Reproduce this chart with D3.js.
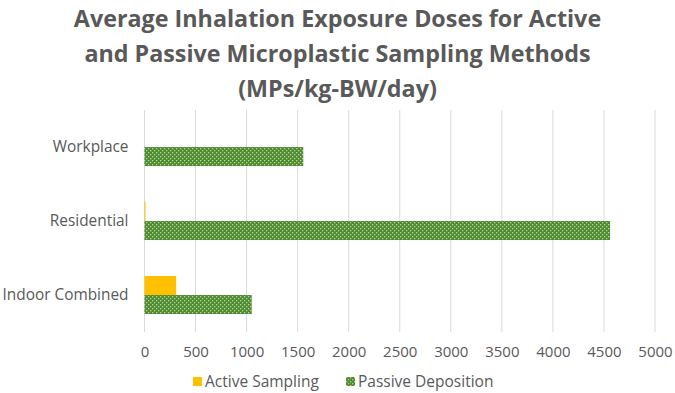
<!DOCTYPE html>
<html>
<head>
<meta charset="utf-8">
<script src="https://cdn.jsdelivr.net/npm/d3@7"></script>
<style>
  body { margin: 0; background: #fff; }
  text { font-family: "Open Sans", "Noto Sans", sans-serif; fill: #595959; }
</style>
</head>
<body>
<div id="chart-area"></div>
<script>
// data
let categories = ["Workplace", "Residential", "Indoor Combined"];
let seriesNames = ["Active Sampling", "Passive Deposition"];
let activeValues = [0, 10, 310];
let passiveValues = [1555, 4560, 1050];
let tickValues = [0, 500, 1000, 1500, 2000, 2500, 3000, 3500, 4000, 4500, 5000];
let titleLines = ["Average Inhalation Exposure Doses for Active",
                  "and Passive Microplastic Sampling Methods",
                  "(MPs/kg-BW/day)"];

let W = 675, H = 393;
let plot = {left: 144.5, right: 655, top: 110, bottom: 332};

let svg = d3.select("#chart-area").append("svg")
    .attr("width", W)
    .attr("height", H);

// pattern for passive bars
let defs = svg.append("defs");
let pat = defs.append("pattern")
    .attr("id", "dots")
    .attr("patternUnits", "userSpaceOnUse")
    .attr("width", 4).attr("height", 4);
pat.append("rect").attr("width", 4).attr("height", 4).attr("fill", "#4e8a2f");
pat.append("rect").attr("x", 0).attr("y", 0).attr("width", 1.3).attr("height", 1.3).attr("fill", "#b5d69c");
pat.append("rect").attr("x", 2).attr("y", 2).attr("width", 1.3).attr("height", 1.3).attr("fill", "#b5d69c");

// title
svg.append("g").selectAll("text")
    .data(titleLines)
  .enter().append("text")
    .attr("x", W / 2)
    .attr("y", (d, i) => 27 + i * 35)
    .attr("text-anchor", "middle")
    .style("font-size", "23.3px")
    .style("font-weight", "bold")
    .text(d => d);

// scales
let x = d3.scaleLinear()
    .domain([0, 5000])
    .range([plot.left, plot.right]);

let y = d3.scaleBand()
    .domain(categories)
    .range([plot.top, plot.bottom])
    .paddingInner(0.486)
    .paddingOuter(0.243);

let ySub = d3.scaleBand()
    .domain(seriesNames)
    .range([0, y.bandwidth()]);

// gridlines
svg.append("g").selectAll("line")
    .data(tickValues)
  .enter().append("line")
    .attr("x1", d => x(d)).attr("x2", d => x(d))
    .attr("y1", plot.top).attr("y2", plot.bottom)
    .attr("stroke", "#d9d9d9")
    .attr("stroke-width", 1);

// x axis labels
let xAxis = d3.axisBottom(x).tickValues(tickValues).tickFormat(d3.format("d")).tickSize(0).tickPadding(14);
let xg = svg.append("g")
    .attr("transform", "translate(0," + plot.bottom + ")")
    .call(xAxis);
xg.select(".domain").remove();
xg.selectAll("text")
    .style("font-size", "15px")
    .style("font-family", "'Open Sans', sans-serif")
    .attr("fill", "#595959");

// y axis labels
let yAxis = d3.axisLeft(y).tickSize(0).tickPadding(16);
let yg = svg.append("g")
    .attr("transform", "translate(" + plot.left + ",0)")
    .call(yAxis);
yg.select(".domain").remove();
yg.selectAll("text")
    .style("font-size", "15.4px")
    .style("font-family", "'Open Sans', sans-serif")
    .attr("fill", "#595959");

// bars
let rows = categories.map((c, i) => ({cat: c, active: activeValues[i], passive: passiveValues[i]}));

svg.append("g").selectAll("rect")
    .data(rows)
  .enter().append("rect")
    .attr("x", x(0))
    .attr("y", d => y(d.cat) + ySub("Active Sampling"))
    .attr("width", d => x(d.active) - x(0))
    .attr("height", ySub.bandwidth())
    .attr("fill", "#ffc000");

svg.append("g").selectAll("rect")
    .data(rows)
  .enter().append("rect")
    .attr("x", x(0))
    .attr("y", d => y(d.cat) + ySub("Passive Deposition"))
    .attr("width", d => x(d.passive) - x(0))
    .attr("height", ySub.bandwidth())
    .attr("fill", "url(#dots)");

// legend
let legendX = [193, 346];
let leg = svg.append("g").selectAll("g")
    .data(seriesNames)
  .enter().append("g")
    .attr("transform", (d, i) => "translate(" + legendX[i] + ",377)");
leg.append("rect")
    .attr("width", 9).attr("height", 9)
    .attr("fill", (d, i) => i === 0 ? "#ffc000" : "url(#dots)");
leg.append("text")
    .attr("x", 12).attr("y", 9.5)
    .style("font-size", "15.5px")
    .text(d => d);
</script>
</body>
</html>
